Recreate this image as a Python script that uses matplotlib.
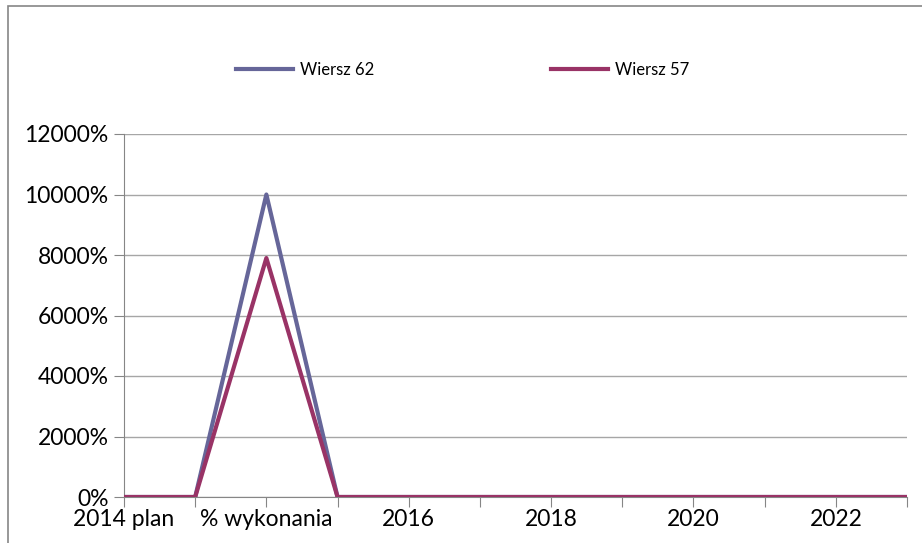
import matplotlib.pyplot as plt
from matplotlib.patches import Rectangle
from matplotlib.ticker import FuncFormatter

# categories on x axis (only every other one is labelled in the original)
categories = ['2014 plan', '2014 wykonanie', '% wykonania', '2015', '2016', '2017',
              '2018', '2019', '2020', '2021', '2022', '2023']
tick_labels = ['2014 plan', '', '% wykonania', '', '2016', '', '2018', '', '2020', '', '2022', '']

wiersz_62 = [0, 0, 10000, 0, 0, 0, 0, 0, 0, 0, 0, 0]
wiersz_57 = [0, 0, 7900, 0, 0, 0, 0, 0, 0, 0, 0, 0]

plt.rcParams['font.family'] = ['Lato', 'DejaVu Sans']

fig = plt.figure(figsize=(9.22, 5.43), dpi=100)
ax = fig.add_axes([124/922, 46/543, (907-124)/922, (497-134)/543])

x = list(range(len(categories)))
ax.plot(x, wiersz_62, color='#666699', linewidth=3, label='Wiersz 62', zorder=3)
ax.plot(x, wiersz_57, color='#993366', linewidth=3, label='Wiersz 57', zorder=4)

ax.set_xlim(0, len(categories) - 1)
ax.set_ylim(0, 12000)
ax.set_yticks(range(0, 12001, 2000))
ax.yaxis.set_major_formatter(FuncFormatter(lambda v, p: '%d%%' % v))
ax.set_xticks(x)
ax.set_xticklabels(tick_labels)

ax.grid(axis='y', color='#a6a6a6', linewidth=1)
ax.set_axisbelow(True)
for side in ['top', 'right']:
    ax.spines[side].set_visible(False)
for side in ['left', 'bottom']:
    ax.spines[side].set_color('#868686')
ax.tick_params(axis='both', direction='out', length=7, color='#868686',
               labelsize=16.5, labelcolor='black')
ax.tick_params(axis='y', pad=4)
ax.tick_params(axis='x', pad=2)

fig.legend(loc='center', bbox_to_anchor=(0.502, 1 - 70/543), ncol=2, frameon=False,
           fontsize=12, handlelength=3.4, handletextpad=0.45, columnspacing=10.6)

# outer chart border
fig.patches.append(Rectangle((8/922, -0.1), 1.2, 1.1 - 6/543, transform=fig.transFigure,
                             fill=False, edgecolor='#868686', linewidth=1.2))

fig.savefig('out.png', dpi=100)
